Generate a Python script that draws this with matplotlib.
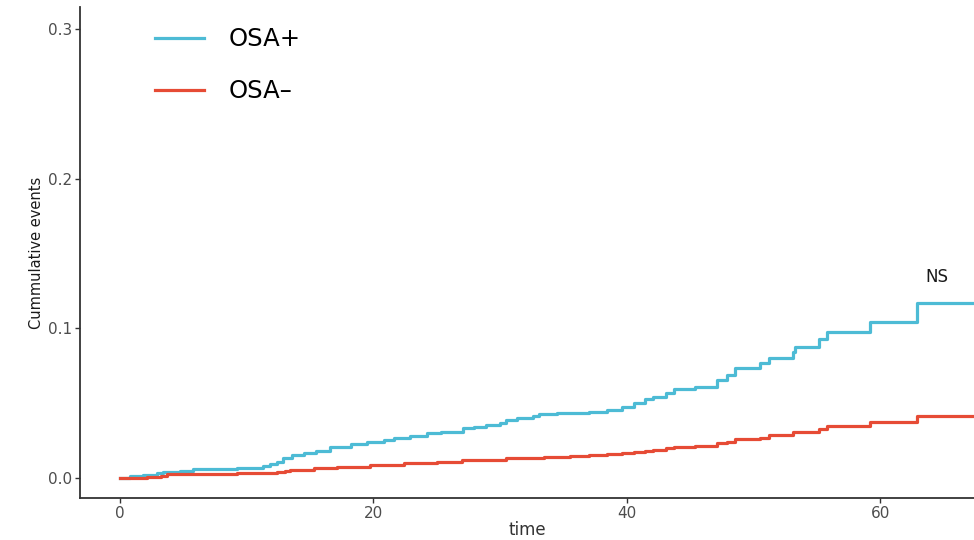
import numpy as np
from matplotlib import pyplot as plt

# cumulative events (step changes)
osa_pos_time = [0, 0.8, 1.8, 2.9, 3.4, 4.7, 5.8, 9.2, 11.3, 11.8,
                12.4, 12.9, 13.6, 14.5, 15.5, 16.6, 18.2, 19.5, 20.8, 21.6,
                22.9, 24.2, 25.3, 27.1, 27.9, 28.9, 30.0, 30.5, 31.3, 32.6,
                33.1, 34.5, 37.0, 38.4, 39.6, 40.6, 41.4, 42.1, 43.1, 43.7,
                45.4, 47.1, 47.9, 48.5, 50.5, 51.2, 53.1, 53.3, 55.2, 55.8,
                59.2, 62.9]
osa_pos_events = [0, .0013, .0022, .0031, .0042, .0049, .0058, .0069, .0082, .0095,
                  .0109, .0131, .0154, .0165, .0183, .0209, .0227, .024, .0254, .0265,
                  .028, .0298, .031, .0332, .0343, .0354, .037, .0387, .0399, .0414,
                  .0425, .0432, .0441, .0454, .0477, .0499, .0525, .0543, .0566, .0592,
                  .061, .0655, .0688, .0733, .0766, .080, .0844, .0877, .0926, .0973,
                  .1044, .1167]

osa_neg_time = [0, 2.1, 3.2, 3.7, 5.8, 9.2, 11.0, 12.4, 13.0, 13.4,
                15.3, 17.1, 19.7, 22.4, 25.0, 27.0, 30.5, 33.5, 35.5, 37.0,
                38.4, 39.6, 40.6, 41.4, 42.1, 43.1, 43.7, 45.4, 47.1, 47.9,
                48.5, 50.5, 51.2, 53.1, 55.2, 55.8, 59.2, 62.9]
osa_neg_events = [0, .0008, .0016, .0024, .0028, .0031, .0035, .0042, .0048, .0055,
                  .0065, .0076, .0087, .0098, .0109, .0118, .0131, .0142, .0148, .0154,
                  .016, .0168, .0174, .018, .0187, .0198, .0209, .0214, .0232, .0243,
                  .0258, .0269, .0287, .0309, .0327, .0349, .0376, .0416]

end_time = 68
labels = ["OSA+", "OSA\u2013"]
colors = ["#4DBBD5", "#E64B35"]

plt.rcParams['font.family'] = ['DejaVu Sans']

fig = plt.figure(figsize=(9.74, 5.4), dpi=100)
ax = fig.add_axes([0.0821, 0.0778, 0.9179, 0.909])

for t, ev, lab, col in [(osa_pos_time, osa_pos_events, labels[0], colors[0]),
                        (osa_neg_time, osa_neg_events, labels[1], colors[1])]:
    tt = np.append(t, end_time)
    yy = np.append(ev, ev[-1])
    ax.step(tt, yy, where='post', color=col, linewidth=2.3, label=lab)

ax.set_xlim(-3.16, 67.4)
ax.set_ylim(-0.0134, 0.3146)
ax.set_xticks([0, 20, 40, 60])
ax.set_yticks([0.0, 0.1, 0.2, 0.3])
ax.set_yticklabels(["0.0", "0.1", "0.2", "0.3"])

for side in ['top', 'right']:
    ax.spines[side].set_visible(False)
for side in ['left', 'bottom']:
    ax.spines[side].set_color('#333333')
    ax.spines[side].set_linewidth(1.3)

ax.tick_params(axis='both', colors='#333333', length=3.5, width=1.0,
               labelsize=11, labelcolor='#4D4D4D', pad=2)

ax.set_xlabel("time", fontsize=12, color='#333333', labelpad=0)
ax.set_ylabel("Cummulative events", fontsize=10.5, color='#1a1a1a', labelpad=3)

ax.text(64.5, 0.134, "NS", fontsize=12, color='#1a1a1a', ha='center', va='center')

ax.legend(loc='upper left', bbox_to_anchor=(0.06, 1.004), frameon=False,
          fontsize=17.5, handlelength=2.0, handletextpad=1.0, labelspacing=1.17)

plt.savefig("out.png", dpi=100)
